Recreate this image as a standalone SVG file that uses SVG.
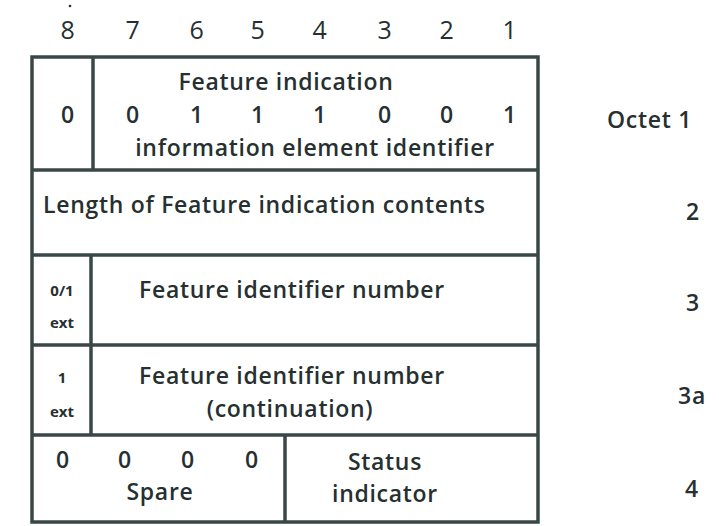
<svg xmlns="http://www.w3.org/2000/svg" width="719" height="526" viewBox="0 0 719 526">
<style>
text{font-family:"Open Sans","Noto Sans","Liberation Sans",sans-serif;fill:#263030;font-size:23px;font-weight:600;letter-spacing:0.7px}
.c{text-anchor:middle}
.s{font-size:15px;font-weight:bold;letter-spacing:0}
.h{font-size:25px;font-weight:500}
.ln{stroke:#3a4747;stroke-width:3.5;fill:none}
</style>
<rect width="719" height="526" fill="#ffffff"/>
<g id="header">
<circle cx="70" cy="6" r="1.3" fill="#263030"/>
<text class="c h" x="68" y="39">8</text>
<text class="c h" x="133" y="39">7</text>
<text class="c h" x="197" y="39">6</text>
<text class="c h" x="258" y="39">5</text>
<text class="c h" x="320" y="39">4</text>
<text class="c h" x="385" y="39">3</text>
<text class="c h" x="447" y="39">2</text>
<text class="c h" x="510" y="39">1</text>
</g>
<g id="frame">
<rect class="ln" x="32" y="57" width="506" height="465"/>
<line class="ln" x1="32" y1="170" x2="538" y2="170"/>
<line class="ln" x1="32" y1="255" x2="538" y2="255"/>
<line class="ln" x1="32" y1="345" x2="538" y2="345"/>
<line class="ln" x1="32" y1="435" x2="538" y2="435"/>
<line class="ln" x1="93" y1="57" x2="93" y2="170"/>
<line class="ln" x1="91" y1="255" x2="91" y2="435"/>
<line class="ln" x1="285" y1="435" x2="285" y2="522"/>
</g>
<g id="octet1">
<text class="c" x="68" y="123">0</text>
<text class="c" x="286" y="90">Feature indication</text>
<text class="c" x="133" y="123">0</text>
<text class="c" x="197" y="123">1</text>
<text class="c" x="258" y="123">1</text>
<text class="c" x="320" y="123">1</text>
<text class="c" x="385" y="123">0</text>
<text class="c" x="447" y="123">0</text>
<text class="c" x="510" y="123">1</text>
<text class="c" x="315" y="156">information element identifier</text>
<text x="607" y="128">Octet  1</text>
</g>
<g id="octet2">
<text x="43" y="213">Length of Feature indication contents</text>
<text class="c" x="693" y="220">2</text>
</g>
<g id="octet3">
<text class="c s" x="62" y="296">0/1</text>
<text class="c s" x="62" y="328">ext</text>
<text class="c" x="292" y="298">Feature identifier number</text>
<text class="c" x="693" y="311">3</text>
</g>
<g id="octet3a">
<text class="c s" x="62" y="383">1</text>
<text class="c s" x="62" y="417">ext</text>
<text class="c" x="292" y="384">Feature identifier number</text>
<text class="c" x="290" y="417">(continuation)</text>
<text class="c" x="692" y="404">3a</text>
</g>
<g id="octet4">
<text class="c" x="63" y="468">0</text>
<text class="c" x="125" y="468">0</text>
<text class="c" x="188" y="468">0</text>
<text class="c" x="252" y="468">0</text>
<text class="c" x="160" y="500">Spare</text>
<text class="c" x="385" y="470">Status</text>
<text class="c" x="385" y="502">indicator</text>
<text class="c" x="692" y="497">4</text>
</g>
</svg>
